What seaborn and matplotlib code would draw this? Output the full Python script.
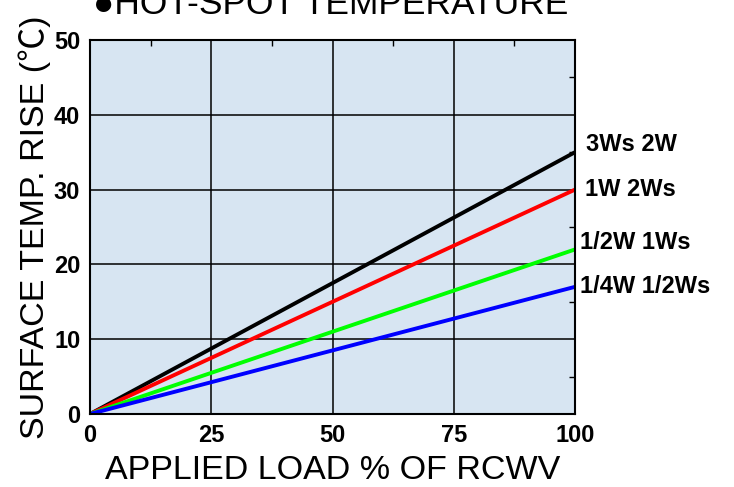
import numpy as np
import pandas as pd
import seaborn as sns
import matplotlib.pyplot as plt
import matplotlib.ticker as ticker

load = [0, 100]
rise_3ws_2w = [0, 35]
rise_1w_2ws = [0, 30]
rise_half_w_1ws = [0, 22]
rise_quarter_w_half_ws = [0, 17]
labels = ["3Ws 2W", "1W 2Ws", "1/2W 1Ws", "1/4W 1/2Ws"]
colors = ["#000000", "#ff0000", "#00ff00", "#0000ff"]

df = pd.DataFrame({
    "load": load * 4,
    "rise": rise_3ws_2w + rise_1w_2ws + rise_half_w_1ws + rise_quarter_w_half_ws,
    "series": [l for l in labels for _ in load],
})

sns.set_style("white")
plt.rcParams['font.family'] = ['Liberation Sans', 'Noto Sans CJK JP', 'DejaVu Sans']
plt.rcParams['text.color'] = 'black'
plt.rcParams['axes.labelcolor'] = 'black'
plt.rcParams['xtick.color'] = 'black'
plt.rcParams['ytick.color'] = 'black'

fig = plt.figure(figsize=(7.34, 4.87), dpi=100)
ax = fig.add_axes([0.1226, 0.1499, 0.6608, 0.768])
ax.set_facecolor("#d7e5f2")

sns.lineplot(data=df, x="load", y="rise", hue="series", palette=colors,
             hue_order=labels, linewidth=2.8, legend=False, ax=ax)

ax.set_xlim(0, 100)
ax.set_ylim(0, 50)
ax.xaxis.set_major_locator(ticker.MultipleLocator(25))
ax.yaxis.set_major_locator(ticker.MultipleLocator(10))
ax.xaxis.set_minor_locator(ticker.MultipleLocator(12.5))
ax.yaxis.set_minor_locator(ticker.MultipleLocator(5))
ax.grid(True, which="major", color="black", linewidth=1.1)
ax.tick_params(which="both", direction="in", top=True, right=True,
               labelsize=17, length=4, width=1)
ax.tick_params(which="major", length=0, pad=7)
for lab in ax.get_xticklabels() + ax.get_yticklabels():
    lab.set_fontweight("bold")
for s in ax.spines.values():
    s.set_linewidth(1.5)
    s.set_color("black")

ends = [rise_3ws_2w[-1], rise_1w_2ws[-1], rise_half_w_1ws[-1], rise_quarter_w_half_ws[-1]]
offsets = [1.0, 0.0, 0.9, 0.0]
xoffs = [2.3, 2.0, 1.0, 1.0]
for lab, e, o, xo in zip(labels, ends, offsets, xoffs):
    ax.text(100 + xo, e + o, lab, fontsize=17, fontweight="bold",
            va="center", ha="left", clip_on=False)

ax.set_xlabel("APPLIED LOAD % OF RCWV", fontsize=24.5, labelpad=6)
ax.set_ylabel("SURFACE TEMP. RISE (℃)", fontsize=24.5, labelpad=2)
fig.text(0.127, 0.972, "●HOT-SPOT TEMPERATURE", fontsize=25.5, va="baseline", ha="left")

fig.savefig("out.png", dpi=100)
